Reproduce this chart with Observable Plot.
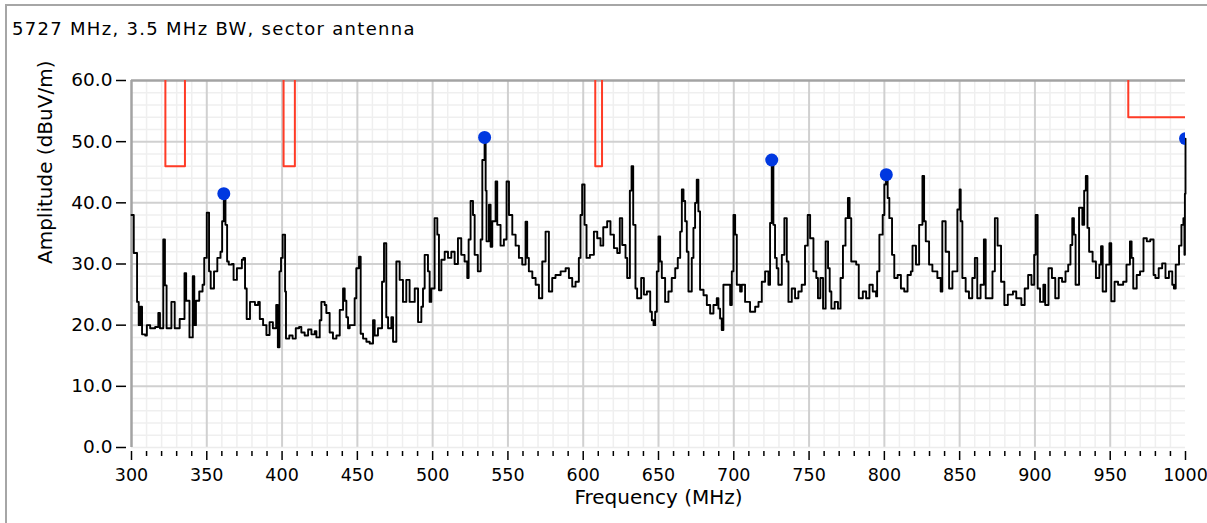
<!DOCTYPE html>
<html><head><meta charset="utf-8">
<script src="https://cdn.jsdelivr.net/npm/d3@7"></script>
<script src="https://cdn.jsdelivr.net/npm/@observablehq/plot@0.6"></script>
<style>
html,body{margin:0;padding:0;background:#fff;}
#wrap{position:relative;width:1207px;height:523px;overflow:hidden;font-family:"DejaVu Sans",sans-serif;}
#frame{position:absolute;left:5px;top:4px;width:1220px;height:540px;border-left:2px solid #a6a6a6;border-top:2px solid #a6a6a6;}
#title{position:absolute;left:12px;top:18px;font-size:18px;letter-spacing:1.3px;color:#000;white-space:nowrap;}
#chart{position:absolute;left:0;top:0;}
</style></head>
<body><div id="wrap"><div id="frame"></div><div id="chart"></div><div id="title">5727 MHz, 3.5 MHz BW, sector antenna</div></div>
<script>
const freqs = [300,301.5,303.7,304.8,305.9,307,309.1,310.2,312.4,315.7,317.8,318.9,321.1,322.2,323.3,326.5,328.7,330.9,332,335.2,336.3,338.5,340.7,341.7,342.8,345,347.2,348.3,350,351.5,352.6,354.8,357,359.1,360.2,361.3,362.4,363.5,364.6,366.7,367.8,370,373.3,374.3,375.4,376.5,378.7,382,384.1,385.2,387.4,389.6,391.7,393.9,396.1,397.2,398.3,399.3,400.4,402,402.6,404.8,407,409.1,411.3,412.8,415,417.3,419.5,421.7,422.8,425,426.1,428.3,429.4,431.6,433.8,436.1,438.3,440.5,441.6,442.7,443.8,444.9,448.2,449.3,451.1,452.2,453.8,456,458.2,460.4,461.5,463.7,466.4,467.7,469.2,470.4,472.6,473.7,475.9,478.1,480.3,482.5,484.7,488.1,490.3,492.5,493.6,494.7,496.9,498,499.1,501.3,503.1,504.2,505.8,508,510.2,512.4,514.6,516.8,519,521.2,523,523.9,525.2,526.8,527.9,530,531.9,533,534.5,535.2,535.8,537.4,538.5,539.6,541.8,542.9,545.1,547.3,549.1,550.7,552.9,555.1,557.3,559.5,561.7,562.8,563.9,566.2,568.4,570.6,572.8,575,577.2,579.4,581.6,585,588.3,590.5,592.7,594.9,597.1,598.2,599.3,600.9,602.2,604.4,607.1,609.3,611.5,613.3,615.9,618.1,620.4,622.6,624.3,625.9,628.1,629.2,631,632.1,633.2,634.7,635.8,638.5,640.3,642.3,644.5,645.6,646.7,647.8,648.9,650,651.1,652.2,654.4,656.6,658.8,661.1,662.8,664.4,665.5,666.6,667.7,668.8,669.9,672.1,673.2,674.3,675.4,676.5,677.6,679.9,682.1,684.3,686.5,688.7,689.8,690.9,692,693.1,695.4,697.6,698.7,699.8,700.9,702,704.2,705.3,707.5,710.8,714.2,716.4,718.6,720.8,723,724.1,725.2,726.3,727.4,728.5,729.6,731.9,733.6,735.2,736.3,738.5,740.7,742.9,745.1,747.3,749.1,750.7,752.9,754.8,755.9,757.5,759.3,761,762.6,763.7,764.8,767,769.2,770.9,772.5,774.2,775.8,776.9,778,780.2,781.3,783,785.7,787.9,790.1,792.3,794.5,795.2,796.7,798.9,800,801.1,802.2,803.3,805.1,806.6,808.8,811,813.2,815.4,817.6,818.7,821,823.1,825.3,826.4,827.5,829.7,831.9,835.2,837.4,838.5,840.7,843,845.2,848.5,850,850.7,851.8,854,856.2,858.4,860.1,861.7,863.9,866.1,867.3,869.6,871.8,873.4,875.2,877.5,879.7,882,885.4,887.6,891,893.2,895.5,897.7,899.5,900.5,901.8,903.4,905.6,906.8,909,911.3,913.5,915.8,918,920.3,922.1,923.6,924.8,925.9,927,929.3,931.5,932.7,933.8,934.9,936,938.3,940.5,942.8,943.9,945,947.3,949.5,950.7,952.9,955.2,958.6,960.8,963.1,964.2,965.3,967.6,969.8,972.1,974.3,976.6,978.8,980,982.2,984.5,986.7,989,991.2,992.3,993.5,995.7,997.3,998.6,999.3,999.6,1000];
const amps = [38,31.8,23.8,20,23,18.5,18.3,20,19.5,19.7,22,19.5,34,26.5,19.5,23.8,19.5,19.5,21,28.5,24,18,28,20,24,25.5,26.6,31,38.4,28.8,26,28.8,31,32,37,41.5,36.4,30.4,29.9,30,27.4,29.3,30.7,31,26,21,23.8,23.3,23.8,21,20,18.4,20.5,19.5,23.3,16.4,28.8,31,34.8,25.5,17.8,18.3,17.8,19.5,19.7,18.8,18.3,19.3,18.5,19,18,20.8,23.8,23.3,22,18.8,17.8,18.3,22.5,26,24,21.3,19.5,20,24.4,29.3,31.2,18.6,17.8,17.3,17,20.8,18.3,19.5,27.1,33.4,21.3,19.5,21.3,17.3,30.4,27.4,23.8,27.4,23.8,26,20.5,23,26,31.5,28.8,23.8,26,37.5,34.8,25.7,30.7,32,31,32,30,34.2,31.5,30.4,27.7,34,40.3,38,31.5,28.8,34,47,50.7,42,33.7,39.7,32.8,37,43.5,36.4,33,34,43.5,38,34.8,33,31,29.9,36.9,31,28.8,27.7,26.6,24.4,30.4,35.3,25.5,27.7,28.2,28.8,29.3,27.7,26.3,27.1,31,38,43,36.4,31,31.5,35.3,34.2,33,36,37,34.8,32.6,31.8,37.5,33.1,31,27.7,42,46,36.4,26,24.4,27.7,25,25.5,22.2,20.8,20,22.2,28.8,34.5,30.4,27.7,23.8,25.5,27.7,29.3,31,35.3,42.2,40.3,37,32,25.5,31,35.9,40,43.8,38.6,25.8,24.9,23.3,21.9,23.3,24.4,22.7,21.1,19.2,26.6,26.6,23.3,28.8,38,34.8,26.6,25.5,26.6,23.8,22.2,23,23.8,27.1,28.8,26.6,36.7,47,36.4,31,29.3,26.6,31.5,37.5,30.4,23.8,26,24.4,25.5,26.6,33,38,34.2,28.8,27.7,24.4,27.7,22.7,33.7,29.3,25.5,22.7,23.8,22.7,27.7,33,37.5,40.8,37.5,30.4,30.4,29.9,24.4,25.5,24.4,26.6,25.5,24.7,28.8,34.8,38,43,44.7,40.8,37.5,31.5,27.7,28.2,26,25.5,28.2,28.8,33,29.9,36.4,44.4,37,33.7,29.9,28.8,27.7,25.5,37,32,26,28.8,38.9,42.2,37,27.7,25.5,24.4,27.7,31,24.4,26.6,34,24.4,24.4,28.8,37.5,33,27.1,23.3,25,25.5,24.4,23.3,26,28.2,26.6,31.5,38,26,23.8,26.6,23.3,29.3,27.7,24.4,27.7,27.1,28.8,29.9,33.1,37.5,34.8,26.6,39.2,36.4,42,44.4,35.9,32,30.4,27.7,29.9,32.9,25.5,29.9,33.4,23.9,27.1,26.6,27.1,29.9,33.7,31,26,28.2,28.8,34.2,33.7,34,28.2,27.7,29.3,30.1,27.7,28.8,26.6,26,29.9,33,36.4,37.5,31.5,41.5,50.5];

const limitFreq = [300, 322.5, 335.5, 401, 408.5, 608, 612.5, 962, 1000];
const limitAmp  = [70, 46, 70, 46, 70, 46, 70, 54, 54];

const peakFreq = [361.3, 534.5, 725.2, 801.3, 1000];
const peakAmp  = [41.5, 50.7, 47, 44.6, 50.5];

const xTicks = [300,350,400,450,500,550,600,650,700,750,800,850,900,950,1000];
const yTicks = [0,10,20,30,40,50,60];
const xMinor = d3.range(300, 1001, 10).filter(d => d % 50 !== 0);
const yMinor = d3.range(0, 61, 2).filter(d => d % 10 !== 0);

const trace = freqs.map((f, i) => ({f, a: amps[i]}));
const limit = limitFreq.map((f, i) => ({f, a: limitAmp[i]}));
const peaks = peakFreq.map((f, i) => ({f, a: peakAmp[i]}));

const chart = Plot.plot({
  width: 1207, height: 523,
  marginTop: 80, marginBottom: 76, marginLeft: 131, marginRight: 22,
  style: {fontFamily: '"DejaVu Sans", sans-serif', fontSize: "18.5px", background: "transparent", color: "#000", overflow: "visible"},
  x: {domain: [300, 1000]},
  y: {domain: [0, 60]},
  marks: [
    Plot.ruleX(xMinor, {stroke: "#efefef", strokeWidth: 1.5}),
    Plot.ruleY(yMinor, {stroke: "#efefef", strokeWidth: 1.5}),
    Plot.ruleX(xTicks.filter(d => d > 300 && d < 1000), {stroke: "#d0d0d0", strokeWidth: 2}),
    Plot.ruleY(yTicks.filter(d => d > 0 && d < 60), {stroke: "#d0d0d0", strokeWidth: 2}),
    Plot.ruleY([0], {stroke: "#ececec", strokeWidth: 1.5}),
    Plot.ruleY([60], {stroke: "#a3a3a3", strokeWidth: 2.5}),
    Plot.ruleX([300], {stroke: "#a3a3a3", strokeWidth: 2.5}),
    Plot.line(limit, {x: "f", y: "a", curve: "step-after", stroke: "#ff3b26", strokeWidth: 2, clip: true}),
    Plot.line(trace, {x: "f", y: "a", curve: "step-after", stroke: "#000", strokeWidth: 1.9}),
    Plot.dot(peaks, {x: "f", y: "a", r: 6.5, fill: "#0038e0", stroke: "none", clip: true}),
    Plot.axisX(xTicks, {tickSize: 9, insetBottom: -4, tickPadding: 8, label: null, tickFormat: d => String(d), strokeWidth: 1.5, fontSize: 17.5}),
    Plot.axisX(xMinor, {tickSize: 5, insetBottom: -4, tickFormat: () => "", label: null, strokeWidth: 1.5}),
    Plot.axisY(yTicks, {tickSize: 10, insetLeft: -5, tickPadding: 4, tickFormat: d3.format(".1f"), label: null, strokeWidth: 1.5}),
    Plot.text(["Frequency (MHz)"], {frameAnchor: "bottom", dy: 56, fontSize: 20}),
    Plot.text(["Amplitude (dBuV/m)"], {frameAnchor: "left", dx: -86, rotate: -90, fontSize: 20})
  ]
});
document.getElementById("chart").appendChild(chart);
</script>
</body></html>
